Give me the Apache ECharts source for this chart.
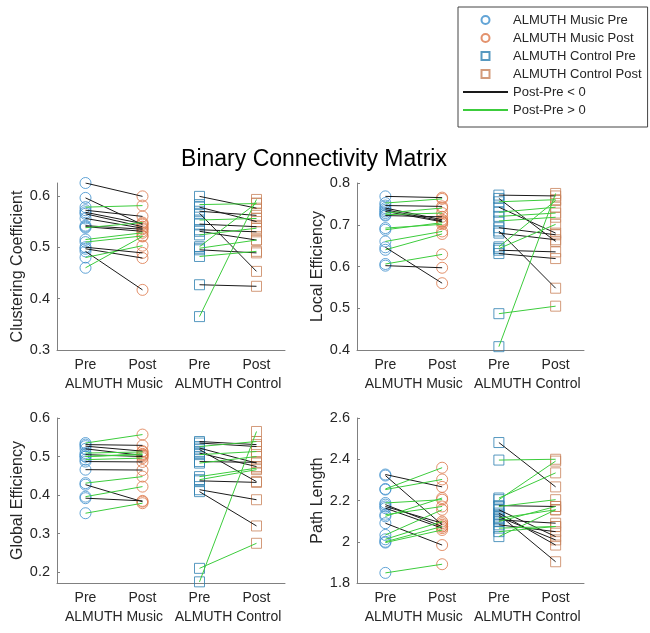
<!DOCTYPE html>
<html>
<head>
<meta charset="utf-8">
<script src="https://cdn.jsdelivr.net/npm/echarts@6/dist/echarts.min.js"></script>
<style>
  html, body { margin: 0; padding: 0; background: #fff; }
  #main { width: 650px; height: 633px; }
</style>
</head>
<body>
<div id="main"></div>
<script>
const phases = ['Pre', 'Post', 'Pre', 'Post']
const groups = ['ALMUTH Music', 'ALMUTH Control']

// Clustering Coefficient
const ccMusicPre = [0.625, 0.596, 0.578, 0.572, 0.568, 0.565, 0.556, 0.542, 0.540, 0.538, 0.515, 0.510, 0.497, 0.492, 0.480, 0.460, 0.500]
const ccMusicPost = [0.599, 0.544, 0.581, 0.560, 0.546, 0.540, 0.537, 0.535, 0.531, 0.548, 0.528, 0.522, 0.479, 0.417, 0.503, 0.521, 0.489]
const ccControlPre = [0.599, 0.583, 0.578, 0.570, 0.566, 0.553, 0.545, 0.534, 0.531, 0.524, 0.501, 0.498, 0.495, 0.482, 0.427, 0.365]
const ccControlPost = [0.576, 0.585, 0.550, 0.562, 0.453, 0.556, 0.540, 0.530, 0.514, 0.537, 0.586, 0.514, 0.489, 0.492, 0.424, 0.593]
const ccTicks = [0.3, 0.4, 0.5, 0.6]

// Local Efficiency
const leMusicPre = [0.768, 0.752, 0.746, 0.740, 0.736, 0.732, 0.724, 0.722, 0.692, 0.688, 0.660, 0.640, 0.646, 0.606, 0.602, 0.728]
const leMusicPost = [0.765, 0.762, 0.744, 0.712, 0.709, 0.707, 0.728, 0.719, 0.701, 0.705, 0.684, 0.678, 0.560, 0.629, 0.597, 0.740]
const leControlPre = [0.771, 0.763, 0.755, 0.742, 0.730, 0.709, 0.693, 0.685, 0.680, 0.647, 0.643, 0.639, 0.631, 0.487, 0.408, 0.720]
const leControlPost = [0.769, 0.660, 0.760, 0.680, 0.742, 0.718, 0.676, 0.548, 0.664, 0.758, 0.701, 0.635, 0.619, 0.505, 0.775, 0.728]
const leTicks = [0.4, 0.5, 0.6, 0.7, 0.8]

// Global Efficiency
const geMusicPre = [0.535, 0.531, 0.527, 0.520, 0.509, 0.505, 0.500, 0.500, 0.492, 0.487, 0.466, 0.431, 0.427, 0.396, 0.392, 0.353]
const geMusicPost = [0.557, 0.529, 0.514, 0.503, 0.512, 0.500, 0.505, 0.507, 0.496, 0.486, 0.465, 0.448, 0.383, 0.422, 0.385, 0.379]
const geControlPre = [0.539, 0.535, 0.526, 0.522, 0.518, 0.509, 0.505, 0.487, 0.483, 0.448, 0.440, 0.437, 0.414, 0.409, 0.210, 0.175]
const geControlPost = [0.531, 0.526, 0.539, 0.483, 0.435, 0.474, 0.513, 0.485, 0.500, 0.470, 0.466, 0.433, 0.388, 0.320, 0.275, 0.565]
const geTicks = [0.2, 0.3, 0.4, 0.5, 0.6]

// Path Length
const plMusicPre = [2.326, 2.321, 2.256, 2.253, 2.188, 2.180, 2.171, 2.163, 2.131, 2.123, 2.090, 2.033, 2.012, 2.000, 1.996, 1.849]
const plMusicPost = [2.266, 2.082, 2.359, 2.302, 2.204, 2.074, 2.090, 2.066, 2.171, 2.212, 1.984, 2.155, 2.098, 2.074, 2.057, 1.891]
const plControlPre = [2.481, 2.396, 2.212, 2.204, 2.175, 2.171, 2.155, 2.139, 2.131, 2.120, 2.114, 2.106, 2.098, 2.082, 2.066, 2.049, 2.025]
const plControlPost = [2.266, 2.400, 2.334, 2.391, 2.171, 2.204, 2.025, 1.984, 1.903, 2.009, 2.155, 2.090, 2.171, 2.049, 2.074, 2.074, 2.155]
const plTicks = [1.8, 2, 2.2, 2.4, 2.6]

const panels = [
	{ name: 'Clustering Coefficient', musicPre: ccMusicPre, musicPost: ccMusicPost, controlPre: ccControlPre, controlPost: ccControlPost, ticks: ccTicks, min: 0.3, max: 0.625, grid: { left: 57, top: 183, width: 228, height: 167 } },
	{ name: 'Local Efficiency', musicPre: leMusicPre, musicPost: leMusicPost, controlPre: leControlPre, controlPost: leControlPost, ticks: leTicks, min: 0.4, max: 0.8, grid: { left: 357, top: 183, width: 227, height: 167 } },
	{ name: 'Global Efficiency', musicPre: geMusicPre, musicPost: geMusicPost, controlPre: geControlPre, controlPost: geControlPost, ticks: geTicks, min: 0.172, max: 0.6, grid: { left: 57, top: 418, width: 228, height: 165 } },
	{ name: 'Path Length', musicPre: plMusicPre, musicPost: plMusicPost, controlPre: plControlPre, controlPost: plControlPost, ticks: plTicks, min: 1.8, max: 2.6, grid: { left: 357, top: 418, width: 227, height: 165 } }
]

const font = "'Liberation Sans', Arial, sans-serif"
const textColor = '#262626'
const axisColor = '#808080'
const colors = {
	musicPre: '#3b8dcc',
	musicPost: '#dc7748',
	controlPre: '#2d7fb0',
	controlPost: '#c8825a',
	down: '#1a1a1a',
	up: '#3ccc3c'
}

const grids = []
const xAxes = []
const yAxes = []
const series = []

panels.forEach((p, i) => {
	grids.push(p.grid)
	// Pre / Post ticks
	xAxes.push({
		type: 'category',
		gridIndex: i,
		data: phases,
		boundaryGap: true,
		axisLine: { lineStyle: { color: axisColor } },
		axisTick: { alignWithLabel: true, inside: true, length: 3, lineStyle: { color: axisColor } },
		axisLabel: { interval: 0, margin: 8, fontSize: 14, color: textColor, fontFamily: font },
		splitLine: { show: false }
	})
	// group names under them
	xAxes.push({
		type: 'category',
		gridIndex: i,
		position: 'bottom',
		data: groups,
		boundaryGap: true,
		axisLine: { show: false },
		axisTick: { show: false },
		axisLabel: { interval: 0, margin: 27, fontSize: 14, color: textColor, fontFamily: font },
		splitLine: { show: false }
	})
	yAxes.push({
		type: 'value',
		gridIndex: i,
		min: p.min,
		max: p.max,
		name: p.name,
		nameLocation: 'middle',
		nameGap: 31,
		nameTextStyle: { fontSize: 16, color: textColor, fontFamily: font },
		axisLine: { show: true, lineStyle: { color: axisColor } },
		axisTick: { show: true, inside: true, length: 3, customValues: p.ticks, lineStyle: { color: axisColor } },
		axisLabel: { customValues: p.ticks, fontSize: 14.5, color: textColor, fontFamily: font, margin: 7 },
		splitLine: { show: false }
	})

	const xi = i * 2
	const markers = [
		['ALMUTH Music Pre', p.musicPre, 0, 'circle', 11, colors.musicPre],
		['ALMUTH Music Post', p.musicPost, 1, 'circle', 11, colors.musicPost],
		['ALMUTH Control Pre', p.controlPre, 2, 'rect', 10, colors.controlPre],
		['ALMUTH Control Post', p.controlPost, 3, 'rect', 10, colors.controlPost]
	]
	markers.forEach(([name, vals, pos, symbol, size, color]) => {
		series.push({
			name: name,
			type: 'scatter',
			xAxisIndex: xi,
			yAxisIndex: i,
			symbol: symbol,
			symbolSize: size,
			itemStyle: { color: 'rgba(255,255,255,0)', borderColor: color, borderWidth: 1 },
			data: vals.map(v => [pos, v]),
			z: 2,
			emphasis: { disabled: true }
		})
	})

	const pairs = [[p.musicPre, p.musicPost, 0], [p.controlPre, p.controlPost, 2]]
	pairs.forEach(([pre, post, pos]) => {
		pre.forEach((v, k) => {
			const up = post[k] > v
			series.push({
				name: up ? 'Post-Pre > 0' : 'Post-Pre < 0',
				type: 'line',
				xAxisIndex: xi,
				yAxisIndex: i,
				symbol: 'none',
				lineStyle: { color: up ? colors.up : colors.down, width: 1 },
				itemStyle: { color: up ? colors.up : colors.down },
				data: [[pos, v], [pos + 1, post[k]]],
				z: 3,
				emphasis: { disabled: true }
			})
		})
	})
})

const myChart = echarts.init(document.getElementById('main'))
myChart.setOption({
	animation: false,
	textStyle: { fontFamily: font },
	title: {
		text: 'Binary Connectivity Matrix',
		left: 309,
		textAlign: 'center',
		top: 143,
		textStyle: { fontSize: 23, fontWeight: 'normal', color: '#000', fontFamily: font }
	},
	legend: {
		orient: 'vertical',
		left: 458,
		top: 7,
		padding: [6, 6, 10, 4],
		itemGap: 4,
		itemWidth: 45,
		itemHeight: 8,
		borderColor: '#444',
		borderWidth: 1,
		selectedMode: false,
		textStyle: { fontSize: 13, lineHeight: 14, color: textColor, fontFamily: font },
		data: [
			{ name: 'ALMUTH Music Pre', icon: 'circle' },
			{ name: 'ALMUTH Music Post', icon: 'circle' },
			{ name: 'ALMUTH Control Pre', icon: 'path://M0,0H8V8H0Z' },
			{ name: 'ALMUTH Control Post', icon: 'path://M0,0H8V8H0Z' },
			{ name: 'Post-Pre < 0', itemStyle: { opacity: 0 } },
			{ name: 'Post-Pre > 0', itemStyle: { opacity: 0 } }
		]
	},
	grid: grids,
	xAxis: xAxes,
	yAxis: yAxes,
	series: series
})
</script>
</body>
</html>
